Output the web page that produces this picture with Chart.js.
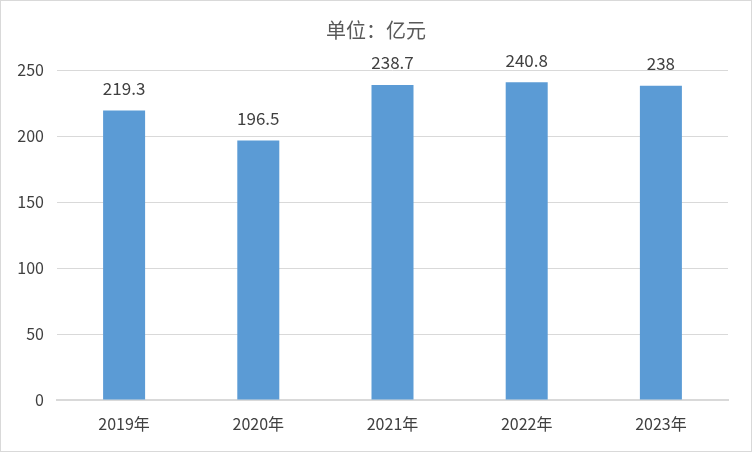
<!DOCTYPE html>
<html><head><meta charset="utf-8">
<script src="https://cdn.jsdelivr.net/npm/chart.js@4/dist/chart.umd.min.js"></script>
<style>html,body{margin:0;padding:0;background:#fff}#wrap{width:752px;height:452px;position:relative}</style>
</head><body><div id="wrap"><canvas id="c" width="752" height="452"></canvas></div>
<script>
const categories = ["2019年","2020年","2021年","2022年","2023年"];
const values = [219.3,196.5,238.7,240.8,238];
const yTicks = [0,50,100,150,200,250];
const titleText = "单位：亿元";
const FONT = '"Liberation Sans Narrow","Noto Sans CJK SC",sans-serif';

const labelPlugin = {
  id:'labels',
  afterDatasetsDraw(chart){
    const ctx = chart.ctx;
    const meta = chart.getDatasetMeta(0);
    ctx.save();
    ctx.font = '17px ' + FONT;
    ctx.fillStyle = '#404040';
    ctx.textAlign = 'center';
    ctx.textBaseline = 'middle';
    meta.data.forEach((bar,i)=>{
      ctx.fillText(String(values[i]), bar.x, bar.y - 22);
    });
    ctx.restore();
  }
};
const decoPlugin = {
  id:'deco',
  afterDraw(chart){
    const ctx = chart.ctx;
    ctx.save();
    ctx.font = '20px ' + FONT;
    ctx.fillStyle = '#595959';
    ctx.textAlign = 'center';
    ctx.textBaseline = 'middle';
    ctx.fillText(titleText, chart.width/2, 30);
    ctx.strokeStyle = '#d9d9d9';
    ctx.lineWidth = 1;
    ctx.strokeRect(0.5,0.5,chart.width-1,chart.height-1);
    ctx.restore();
  }
};

new Chart(document.getElementById('c'),{
  type:'bar',
  data:{labels:categories,datasets:[{data:values,backgroundColor:'#5B9BD5',barPercentage:0.313,categoryPercentage:1}]},
  plugins:[labelPlugin,decoPlugin],
  options:{
    responsive:false,animation:false,
    layout:{padding:{left:0,right:24,top:70,bottom:0}},
    plugins:{legend:{display:false},tooltip:{enabled:false},title:{display:false}},
    scales:{
      x:{
        grid:{display:false},
        border:{display:true,color:'#d9d9d9',width:2},
        ticks:{color:'#404040',font:{family:FONT,size:16},padding:6},
        afterFit(s){s.height=52;}
      },
      y:{
        min:0,max:250,
        afterBuildTicks(s){s.ticks=yTicks.map(v=>({value:v}));},
        grid:{color:'#d9d9d9',lineWidth:1,drawTicks:false},
        border:{display:false},
        ticks:{color:'#404040',font:{family:FONT,size:16},padding:13},
        afterFit(s){s.width=57;}
      }
    }
  }
});
</script></body></html>
